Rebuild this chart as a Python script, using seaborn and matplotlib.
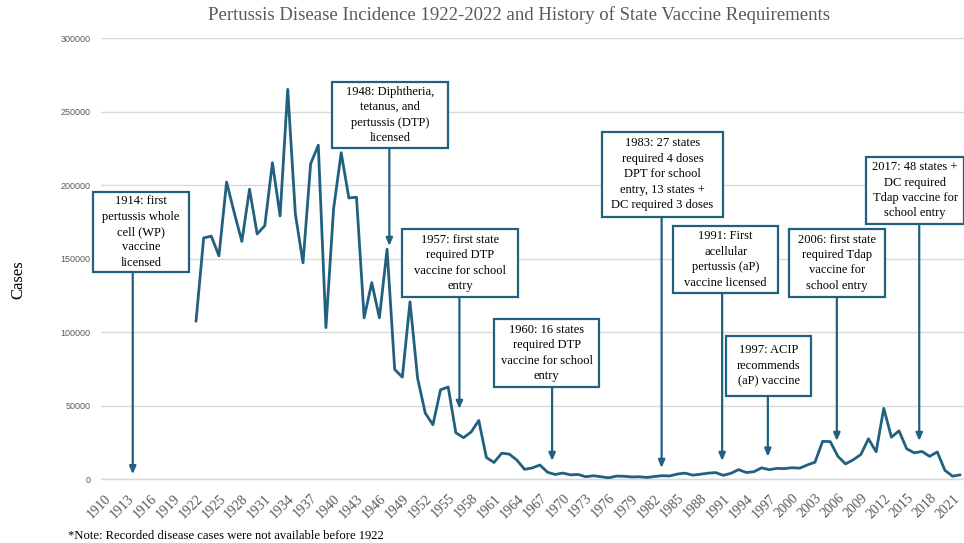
import matplotlib
matplotlib.use("Agg")
import matplotlib.pyplot as plt
from matplotlib.patches import Rectangle
import seaborn as sns
import pandas as pd

# Reported pertussis cases in the United States, 1922-2022
years = list(range(1922, 2023))
cases = [
    107473, 164191, 165418, 152003, 202210, 181411, 161799, 197371, 166914, 172559,
    215343, 179135, 265269, 180518, 147237, 214652, 227319, 103188, 183866, 222202,
    191383, 191890, 109873, 133792, 109860, 156517, 74715, 69479, 120718, 68687,
    45030, 37129, 60886, 62786, 31732, 28295, 32148, 40005, 14809, 11468,
    17749, 17135, 13005, 6799, 7717, 9718, 4810, 3285, 4249, 3036,
    3287, 1759, 2402, 1738, 1010, 2177, 2063, 1623, 1730, 1248,
    1895, 2463, 2276, 3589, 4195, 2823, 3450, 4157, 4570, 2719,
    4083, 6586, 4617, 5137, 7796, 6564, 7405, 7288, 7867, 7580,
    9771, 11647, 25827, 25616, 15632, 10454, 13278, 16858, 27550, 18719,
    48277, 28639, 32971, 20762, 17972, 18975, 15609, 18617, 6124, 2116,
    3044,
]

# Category axis labels (every third year)
tick_years = list(range(1910, 2022, 3))
y_ticks = [0, 50000, 100000, 150000, 200000, 250000, 300000]

# Vaccine history events
event_texts = [
    "1914: first\npertussis whole\ncell (WP)\nvaccine\nlicensed",
    "1948: Diphtheria,\ntetanus, and\npertussis (DTP)\nlicensed",
    "1957: first state\nrequired DTP\nvaccine for school\nentry",
    "1960: 16 states\nrequired DTP\nvaccine for school\nentry",
    "1983: 27 states\nrequired 4 doses\nDPT for school\nentry, 13 states +\nDC required 3 doses",
    "1991: First\nacellular\npertussis (aP)\nvaccine licensed",
    "1997: ACIP\nrecommends\n(aP) vaccine",
    "2006: first state\nrequired Tdap\nvaccine for\nschool entry",
    "2017: 48 states +\nDC required\nTdap vaccine for\nschool entry",
]

# Callout placement: box (x0, x1, top, bottom) in axis units, arrow x and arrow tip height
callout_boxes = [
    (1908.48, 1921.09, 195450, 141030),
    (1939.80, 1954.95, 270280, 225590),
    (1948.97, 1964.15, 170280, 124220),
    (1961.00, 1974.75, 109050, 63000),
    (1975.14, 1990.98, 236470, 178650),
    (1984.44, 1998.18, 172320, 126740),
    (1991.37, 2002.50, 97490, 56870),
    (1999.62, 2012.19, 170480, 124220),
    (2009.70, 2022.52, 219470, 173680),
]
callout_arrows = [
    (1913.72, 3400),
    (1947.30, 158720),
    (1956.47, 47830),
    (1968.60, 12450),
    (1982.93, 7690),
    (1990.85, 12450),
    (1996.83, 15370),
    (2005.86, 26060),
    (2016.64, 26060),
]

LINE = "#21617f"
GRID = "#d9d9d9"
GREY_TXT = "#595959"
SERIF = ["Liberation Serif", "DejaVu Serif"]
SANS = ["Liberation Sans", "DejaVu Sans"]

sns.set_theme(style="white")
plt.rcParams["font.family"] = SERIF

fig = plt.figure(figsize=(9.64, 5.43), dpi=100)
ax = fig.add_axes([100.5 / 964, 1 - 479.3 / 543, 863.5 / 964, 441 / 543])

df = pd.DataFrame({"Year": years, "Cases": cases})
sns.lineplot(data=df, x="Year", y="Cases", ax=ax, color=LINE, linewidth=2.0,
             zorder=3)

ax.set_xlim(1909.5, 2022.5)
ax.set_ylim(0, 300000)
ax.set_yticks(y_ticks)
ax.set_yticklabels([str(v) for v in y_ticks], fontfamily=SANS, fontsize=6.5,
                   color=GREY_TXT)
ax.set_xticks(tick_years)
ax.set_xticklabels([str(y) for y in tick_years], rotation=45, ha="right",
                   rotation_mode="anchor", fontfamily=SERIF, fontsize=10,
                   color=GREY_TXT)
ax.tick_params(axis="both", length=0)
ax.tick_params(axis="y", pad=7)
ax.tick_params(axis="x", pad=9)

ax.grid(axis="y", color=GRID, linewidth=1.0)
ax.set_axisbelow(True)
for side in ("left", "right", "top"):
    ax.spines[side].set_visible(False)
ax.spines["bottom"].set_color(GRID)
ax.spines["bottom"].set_linewidth(1.0)

ax.set_xlabel("")
ax.set_ylabel("")

# Callout boxes with arrows pointing to the timeline
for text, (x0, x1, top, bot), (ax_x, tip) in zip(event_texts, callout_boxes,
                                                  callout_arrows):
    rect = Rectangle((x0, bot), x1 - x0, top - bot, facecolor="white",
                     edgecolor=LINE, linewidth=1.6, zorder=5, clip_on=False)
    ax.add_patch(rect)
    ax.text((x0 + x1) / 2, (top + bot) / 2, text, ha="center", va="center",
            fontsize=9, color="black", linespacing=1.38, zorder=6,
            fontfamily=SERIF, clip_on=False)
    ax.annotate("", xy=(ax_x, tip), xytext=(ax_x, bot),
                arrowprops=dict(arrowstyle="-|>,head_length=0.38,head_width=0.16",
                                color=LINE, linewidth=1.6, shrinkA=0, shrinkB=0),
                zorder=4)

fig.text(519 / 964, 1 - 15 / 543,
         "Pertussis Disease Incidence 1922-2022 and History of State Vaccine Requirements",
         ha="center", va="center", fontsize=13.5, color=GREY_TXT, fontfamily=SERIF)
fig.text(18 / 964, 1 - 280 / 543, "Cases", rotation=90, ha="center", va="center",
         fontsize=12, color="black", fontfamily=SERIF)
fig.text(68 / 964, 1 - 536 / 543,
         "*Note: Recorded disease cases were not available before 1922",
         ha="left", va="center", fontsize=9.1, color="black", fontfamily=SERIF)

fig.savefig("out.png", dpi=100)
